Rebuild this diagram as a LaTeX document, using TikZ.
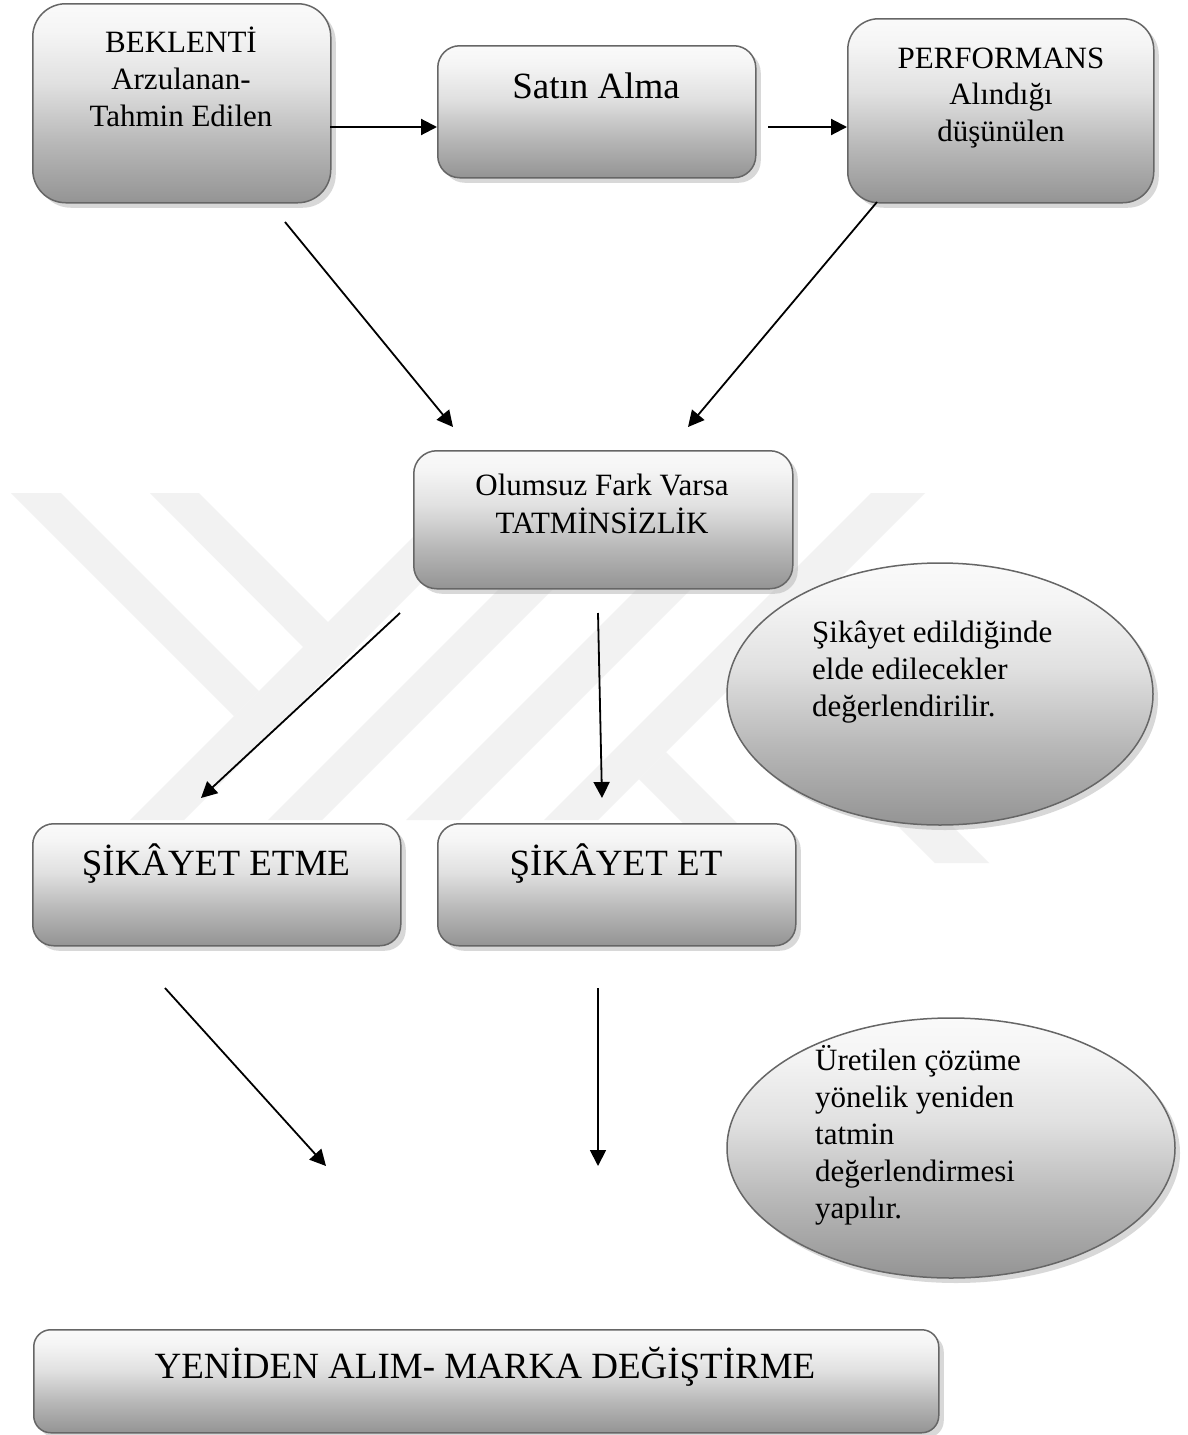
\documentclass[tikz,border=0pt]{standalone}
\usepackage{fontspec}
\setmainfont{Liberation Serif}
\usetikzlibrary{arrows.meta,shadows,shapes.geometric}
\pgfdeclareverticalshading{wgrad}{100bp}{color(0bp)=(black!42); color(25bp)=(black!42); color(40bp)=(black!28); color(55bp)=(black!12); color(68bp)=(black!4); color(75bp)=(black!2); color(100bp)=(black!2)}
\newcommand{\mylines}[2]{\begin{tabular}[t]{@{}#1@{}}#2\end{tabular}}
\tikzset{
  box/.style={draw=black!60, line width=1.5pt, shading=wgrad, rounded corners=#1,
    drop shadow={shadow xshift=5pt, shadow yshift=-5pt, fill=black!30, draw=none},
    inner sep=0pt, anchor=north west},
  ell/.style={ellipse, draw=black!60, line width=1.5pt, shading=wgrad,
    drop shadow={shadow xshift=5pt, shadow yshift=-5pt, fill=black!30, draw=none},
    inner sep=0pt},
  small/.style={inner sep=0pt, font=\fontsize{31}{37}\selectfont},
  big/.style={inner sep=0pt, font=\fontsize{37}{44}\selectfont},
  arr/.style={-{Triangle[length=16pt,width=16pt]}, line width=1.8pt},
  wm/.style={fill=black!5}
}
\begin{document}
\begin{tikzpicture}[x=1pt,y=-1pt]
\fill[white] (0,0) rectangle (1187,1435);
\useasboundingbox (0,0) rectangle (1187,1435);

% watermark
\fill[wm] (11,493) -- (61,493) -- (259,691) -- (234,716) -- cycle;
\fill[wm] (150,493) -- (199,493) -- (355,649) -- (330,674) -- cycle;
\fill[wm] (457,493) -- (511,493) -- (184,820) -- (130,820) -- cycle;
\fill[wm] (595,493) -- (649,493) -- (322,820) -- (268,820) -- cycle;
\fill[wm] (733,493) -- (787,493) -- (460,820) -- (406,820) -- cycle;
\fill[wm] (871,493) -- (925,493) -- (598,820) -- (544,820) -- cycle;
\fill[wm] (666,752) -- (777,863) -- (723,863) -- (639,779) -- cycle;
\fill[wm] (772,646) -- (989,863) -- (935,863) -- (745,673) -- cycle;

% boxes
\node[box=33pt, minimum width=298pt, minimum height=199pt] (b1) at (32,3) {};
\node[box=22pt, minimum width=318pt, minimum height=132pt] (b2) at (437,45) {};
\node[box=31pt, minimum width=306pt, minimum height=184pt] (b3) at (847,18) {};
\node[box=23pt, minimum width=379pt, minimum height=138pt] (b4) at (413,450) {};
\node[box=21pt, minimum width=368pt, minimum height=122pt] (b5) at (32,823) {};
\node[box=21pt, minimum width=358pt, minimum height=122pt] (b6) at (437,823) {};
\node[box=17pt, minimum width=905pt, minimum height=103pt] (b7) at (33,1329) {};
\node[ell, minimum width=426pt, minimum height=262pt] (e1) at (940,694) {};
\node[ell, minimum width=448pt, minimum height=260pt] (e2) at (951,1148) {};

% texts
\node[small, anchor=base] (t1) at (181,52) {\mylines{c}{BEKLENTİ\\Arzulanan-\\Tahmin Edilen}};
\node[big, anchor=base] (t2) at (596,98) {Satın Alma};
\node[small, anchor=base] (t3) at (1001,68) {\mylines{c}{PERFORMANS\\[-1pt]Alındığı\\düşünülen}};
\node[small, anchor=base] (t4) at (602,495) {\mylines{c}{Olumsuz Fark Varsa\\[1pt]TATMİNSİZLİK}};
\node[big, anchor=base] (t5) at (216,875) {ŞİKÂYET ETME};
\node[big, anchor=base] (t6) at (616,875) {ŞİKÂYET ET};
\node[big, anchor=base] (t7) at (485,1378) {YENİDEN ALIM- MARKA DEĞİŞTİRME};
\node[small, anchor=base west] (t8) at (812,642) {\mylines{l}{Şikâyet edildiğinde\\elde edilecekler\\değerlendirilir.}};
\node[small, anchor=base west] (t9) at (815,1070) {\mylines{l}{Üretilen çözüme\\yönelik yeniden\\tatmin\\değerlendirmesi\\yapılır.}};

% connector end points
\coordinate (a1s) at (330,127);  \coordinate (a1e) at (437,127);
\coordinate (a2s) at (768,127);  \coordinate (a2e) at (847,127);
\coordinate (a3s) at (285,222);  \coordinate (a3e) at (453,427);
\coordinate (a4s) at (877,202);  \coordinate (a4e) at (688,427);
\coordinate (a5s) at (400,613);  \coordinate (a5e) at (201,798);
\coordinate (a6s) at (598,613);  \coordinate (a6e) at (602,798);
\coordinate (a7s) at (165,988);  \coordinate (a7e) at (326,1166);
\coordinate (a8s) at (598,988);  \coordinate (a8e) at (598,1166);

\draw[arr, line width=2.1pt] (a1s) -- (a1e);
\draw[arr, line width=2.1pt] (a2s) -- (a2e);
\draw[arr] (a3s) -- (a3e);
\draw[arr] (a4s) -- (a4e);
\draw[arr] (a5s) -- (a5e);
\draw[arr] (a6s) -- (a6e);
\draw[arr] (a7s) -- (a7e);
\draw[arr] (a8s) -- (a8e);
\end{tikzpicture}
\end{document}
